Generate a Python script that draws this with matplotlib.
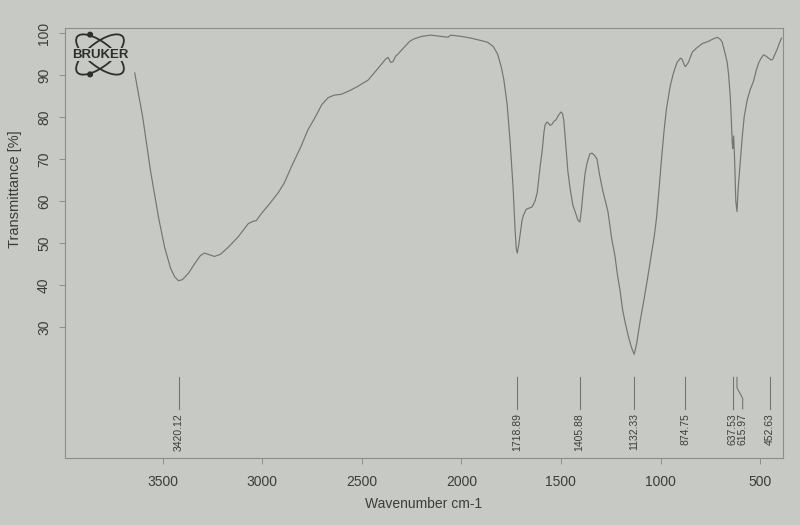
import matplotlib
matplotlib.use('Agg')
import matplotlib.pyplot as plt
from matplotlib.patches import Ellipse, Circle

# Spectrum (wavenumber in cm-1, transmittance in %)
wavenumber = [
    3640, 3600, 3560, 3520, 3490, 3460, 3440, 3420, 3400, 3370, 3340, 3310,
    3290, 3265, 3240, 3210, 3170, 3120, 3070, 3045, 3030, 3004, 2960, 2919,
    2889, 2850, 2805, 2770, 2739, 2700, 2669, 2640, 2604, 2560, 2520, 2468,
    2420, 2380, 2368, 2355, 2343, 2330, 2318, 2293, 2260, 2238, 2200, 2153,
    2100, 2068, 2053, 2000, 1953, 1900, 1868, 1840, 1818, 1800, 1787, 1770,
    1755, 1740, 1730, 1724, 1719, 1712, 1704, 1695, 1689, 1675, 1660, 1645,
    1630, 1619, 1605, 1594, 1585, 1579, 1570, 1564, 1555, 1544, 1535, 1525,
    1515, 1500, 1492, 1485, 1475, 1465, 1454, 1440, 1429, 1415, 1405, 1398,
    1389, 1379, 1369, 1355, 1344, 1330, 1319, 1305, 1290, 1264, 1245, 1229,
    1215, 1204, 1190, 1175, 1160, 1145, 1132, 1120, 1102, 1085, 1067, 1050,
    1032, 1020, 1007, 995, 982, 970, 952, 935, 917, 900, 892, 880,
    875, 860, 840, 817, 790, 760, 740, 715, 700, 690, 675, 665,
    658, 650, 645, 640, 637.5, 633, 628, 622, 616, 610, 600, 590,
    580, 565, 550, 533, 520, 508, 495, 483, 470, 457, 445, 437,
    425, 413, 400, 392,
]
transmittance = [
    90.5, 80, 67, 56, 49, 44, 42, 41, 41.3, 42.8, 45, 47,
    47.6, 47.2, 46.8, 47.3, 49, 51.5, 54.6, 55.2, 55.3, 57, 59.5, 62,
    64.3, 68.5, 73, 77, 79.5, 83, 84.6, 85.2, 85.4, 86.3, 87.3, 88.8,
    91.5, 93.8, 94.2, 93, 93.2, 94.5, 95, 96.3, 98, 98.6, 99.2, 99.5,
    99.2, 99, 99.5, 99.2, 98.8, 98.2, 97.8, 96.8, 95, 92, 89, 83,
    74, 63, 53, 48.5, 47.6, 49.5, 52.4, 55.5, 56.5, 58, 58.3, 58.6,
    60, 62, 68, 72, 76.5, 78.2, 78.8, 78.6, 78, 78.3, 79, 79.3,
    80.2, 81.2, 80.8, 79, 73, 67, 63, 59, 57.5, 55.5, 55, 57.5,
    62, 66.5, 69, 71.2, 71.4, 70.8, 70, 66, 62.5, 57.5, 51, 47,
    42, 39, 34, 30.5, 27.5, 25, 23.5, 26, 31.5, 36, 41, 46,
    51.4, 56, 63, 70, 76.8, 82, 87.2, 90.5, 93, 94, 93.8, 92.3,
    92, 93, 95.5, 96.5, 97.5, 98, 98.5, 99, 98.5, 97.8, 95, 93,
    90, 85, 80, 74, 72.5, 75.5, 70, 60, 57.5, 63, 69, 75,
    80, 84, 86.5, 88.5, 91, 92.8, 94, 94.8, 94.5, 94, 93.6, 93.7,
    95, 96.3, 98, 98.8,
]

peak_labels = ['3420.12', '1718.89', '1405.88', '1132.33', '874.75',
               '637.53', '615.97', '452.63']
x_ticks = [3500, 3000, 2500, 2000, 1500, 1000, 500]
y_ticks = [30, 40, 50, 60, 70, 80, 90, 100]

paper = '#c6c9c4'
ink = '#3c3d3b'
line_col = '#737571'
frame_col = '#8c8e8a'

plt.rcParams['font.family'] = ['Liberation Sans', 'DejaVu Sans']

fig = plt.figure(figsize=(8, 5.25), dpi=100, facecolor=paper)
ax = fig.add_axes([65 / 800, 67 / 525, 718 / 800, 430 / 525], facecolor=paper)

ax.plot(wavenumber, transmittance, color=line_col, lw=0.85)

ax.set_xlim(3990, 385)
ax.set_ylim(-1.2, 101.2)
ax.set_xticks(x_ticks)
ax.set_yticks(y_ticks)
ax.tick_params(direction='out', length=4, width=0.7, color=frame_col,
               labelcolor=ink, labelsize=10)
ax.tick_params(axis='x', pad=8)
ax.tick_params(axis='y', pad=6)
for lbl in ax.get_yticklabels():
    lbl.set_rotation(90)
    lbl.set_va('center')
for s in ax.spines.values():
    s.set_color(frame_col)
    s.set_linewidth(0.8)

ax.set_xlabel('Wavenumber cm-1', fontsize=10, color=ink, labelpad=6)
ax.set_ylabel('Transmittance [%]', fontsize=10.5, color=ink)
ax.yaxis.set_label_coords(-0.06, 0.625)

# peak annotations, crowded labels pushed to the right
prev = None
for lab in peak_labels:
    wn = float(lab)
    lx = wn
    if prev is not None and prev - wn < 40:
        lx = prev - 50
    if lx == wn:
        ax.plot([wn, wn], [18, 10.5], color=line_col, lw=0.8)
    else:
        ax.plot([wn, wn, lx, lx], [18, 15.5, 13, 10.5], color=line_col, lw=0.8)
    ax.text(lx, 9.5, lab, rotation=90, ha='center', va='top',
            fontsize=7.5, color=ink)
    prev = lx

# Bruker logo
logo = fig.add_axes([67 / 800, (525 - 79) / 525, 66 / 800, 49 / 525])
logo.set_xlim(-1, 1)
logo.set_ylim(-0.74, 0.74)
logo.axis('off')
for ang in (38, -38):
    logo.add_patch(Ellipse((0, 0), 1.75, 0.72, angle=ang, fill=False,
                           ec='#2e2f2d', lw=1.3))
logo.add_patch(Circle((-0.3, 0.6), 0.07, color='#2e2f2d'))
logo.add_patch(Circle((-0.3, -0.6), 0.07, color='#2e2f2d'))
logo.text(0, 0.0, 'BRUKER', ha='center', va='center', fontsize=9.5,
          fontweight='bold', color='#2e2f2d',
          bbox=dict(facecolor=paper, edgecolor='none', pad=0.2))

fig.savefig('out.png', dpi=100, facecolor=paper)
